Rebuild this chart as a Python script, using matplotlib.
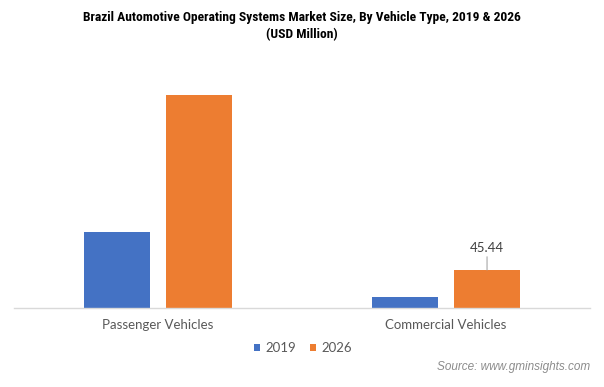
import matplotlib
matplotlib.use("Agg")
import matplotlib.pyplot as plt
from matplotlib import font_manager as fm
import numpy as np

categories = ["Passenger Vehicles", "Commercial Vehicles"]
years = ["2019", "2026"]
values_2019 = [90.9, 13.2]
values_2026 = [254.7, 45.44]
colors = ["#4472C4", "#ED7D31"]

W, H = 604, 387
fig = plt.figure(figsize=(W / 100, H / 100), dpi=100)
ax = fig.add_axes([14 / W, 1 - 308 / H, (590 - 14) / W, (308 - 75) / H])

x = np.arange(len(categories))
bw = 0.226
off = (bw + 0.059) / 2
b1 = ax.bar(x - off, values_2019, bw, color=colors[0], label=years[0])
b2 = ax.bar(x + off, values_2026, bw, color=colors[1], label=years[1])

scale = 45.44 / 38
ax.set_ylim(0, (308 - 75) * scale)
ax.set_xlim(-0.5, 1.5)
for s in ["top", "right", "left"]:
    ax.spines[s].set_visible(False)
ax.spines["bottom"].set_color("#D9D9D9")
ax.spines["bottom"].set_linewidth(1)
ax.set_yticks([])
ax.set_xticks(x)
ax.set_xticklabels(categories, fontsize=9.5, color="#595959", family=["Lato", "DejaVu Sans"])
ax.tick_params(axis="x", length=0, pad=8)

v = values_2026[1]
xi = x[1] + off
ax.annotate(f"{v:.2f}", xy=(xi, v), xytext=(xi, v + 16 * scale),
            ha="center", va="bottom", fontsize=9.5, color="#404040",
            family=["Lato", "DejaVu Sans"],
            arrowprops=dict(arrowstyle="-", color="#A6A6A6", lw=0.8, shrinkA=0, shrinkB=0))

leg = fig.legend(handles=[b1, b2], labels=years, loc="center", bbox_to_anchor=(303 / W, 1 - 348 / H),
                 ncol=2, frameon=False, handlelength=0.5, handleheight=0.5,
                 handletextpad=0.4, columnspacing=1.0, prop={"family": ["Lato", "DejaVu Sans"], "size": 9.5})
for t in leg.get_texts():
    t.set_color("#595959")

names = {f.name for f in fm.fontManager.ttflist}
title_family = "Liberation Sans"
for cand in ["Liberation Sans Narrow", "Arial Narrow", "Roboto Condensed", "DejaVu Sans Condensed", "Open Sans Condensed"]:
    if cand in names:
        title_family = cand
        break

t1 = fig.text(302 / W, 1 - 17 / H, "Brazil Automotive Operating Systems Market Size, By Vehicle Type, 2019 & 2026",
              ha="center", va="center", fontsize=9.7, fontweight="bold",
              family=[title_family, "DejaVu Sans"], color="#000000")
t2 = fig.text(302 / W, 1 - 35 / H, "(USD Million)",
              ha="center", va="center", fontsize=9.7, fontweight="bold",
              family=[title_family, "DejaVu Sans"], color="#000000")
renderer = fig.canvas.get_renderer()
wpx = t1.get_window_extent(renderer).width
if wpx > 540:
    fs = 9.7 * 540 / wpx
    t1.set_fontsize(fs)
    t2.set_fontsize(fs)

fig.text(590 / W, 1 - 367 / H, "Source: www.gminsights.com", ha="right", va="center",
         fontsize=8.5, style="italic", color="#8C8C8C", family=["Liberation Sans", "DejaVu Sans"])

fig.savefig("out.png", dpi=100)
